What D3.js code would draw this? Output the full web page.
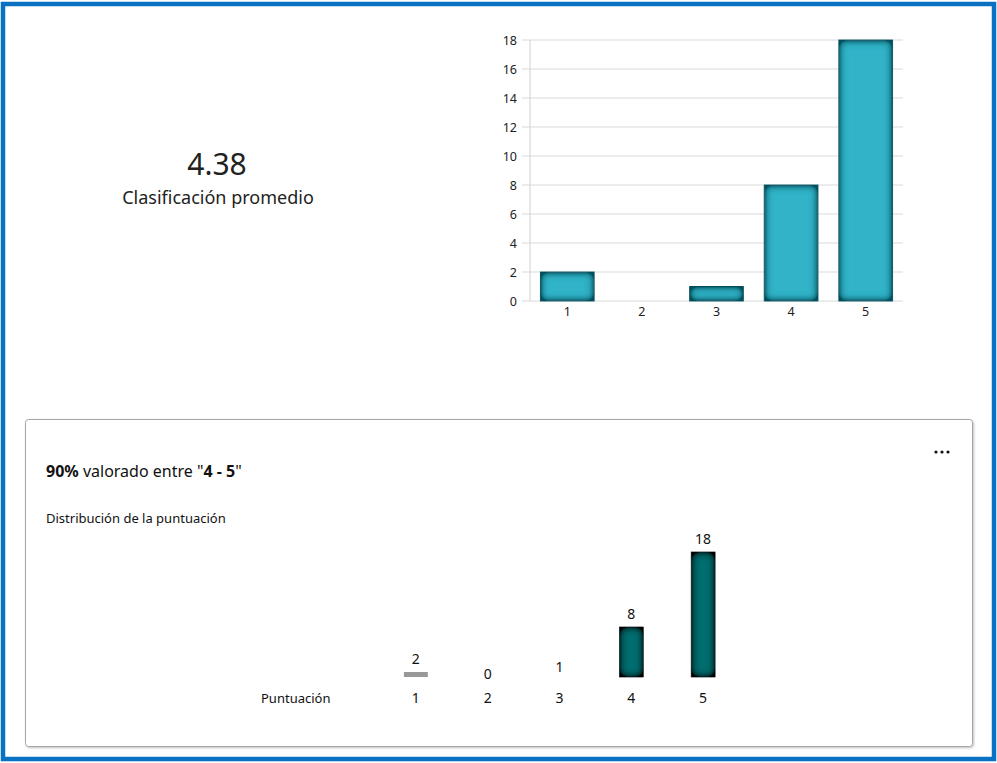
<!DOCTYPE html>
<html><head><meta charset="utf-8">
<script src="https://cdn.jsdelivr.net/npm/d3@7"></script>
<style>
html,body{margin:0;padding:0;background:#fff;}
svg{display:block;font-family:"Noto Sans","Open Sans",sans-serif;}
</style></head>
<body>
<svg id="c" width="997" height="763"></svg>
<script>
// ---- data ----
const categories = ["1","2","3","4","5"];
const counts = [2,0,1,8,18];
const yTicks = [0,2,4,6,8,10,12,14,16,18];
const averageValue = "4.38";
const averageLabel = "Clasificación promedio";
const summaryPct = "90%";
const summaryText = " valorado entre \"";
const summaryRange = "4 - 5";
const subTitle = "Distribución de la puntuación";
const axisTitle = "Puntuación";
const bottomBarKinds = ["gray","none","none","dark","dark"];

const svg = d3.select("#c");
const defs = svg.append("defs");

function innerShadow(id, color, sd, boost){
  const f = defs.append("filter").attr("id",id).attr("filterUnits","userSpaceOnUse")
    .attr("x",0).attr("y",0).attr("width",997).attr("height",763);
  f.append("feFlood").attr("flood-color",color).attr("result","fl");
  f.append("feComposite").attr("in","fl").attr("in2","SourceAlpha").attr("operator","out").attr("result","outside");
  f.append("feGaussianBlur").attr("in","outside").attr("stdDeviation",sd).attr("result","bl");
  const ct = f.append("feComponentTransfer").attr("in","bl").attr("result","bl2");
  ct.append("feFuncA").attr("type","linear").attr("slope",boost).attr("intercept",0);
  f.append("feComposite").attr("in","bl2").attr("in2","SourceAlpha").attr("operator","in").attr("result","sh");
  const m = f.append("feMerge");
  m.append("feMergeNode").attr("in","SourceGraphic");
  m.append("feMergeNode").attr("in","sh");
}
innerShadow("isTeal","#0a4f5c",4.5,2.2);
innerShadow("isDark","#000000",5,2);

const ds = defs.append("filter").attr("id","cardShadow").attr("x","-5%").attr("y","-5%").attr("width","110%").attr("height","110%");
ds.append("feDropShadow").attr("dx",1).attr("dy",1).attr("stdDeviation",1).attr("flood-color","#000").attr("flood-opacity",0.25);

// outer blue border
svg.append("rect").attr("x",3).attr("y",4).attr("width",991).attr("height",755)
  .attr("fill","none").attr("stroke","#0a70c2").attr("stroke-width",4.5);

// left KPI
svg.append("text").attr("x",217).attr("y",175).attr("text-anchor","middle")
  .attr("font-size",30).attr("fill","#222").text(averageValue);
svg.append("text").attr("x",218).attr("y",204).attr("text-anchor","middle")
  .attr("font-size",18).attr("fill","#222").text(averageLabel);

// ---- top bar chart ----
const x = d3.scaleBand().domain(categories).range([530,903]).paddingInner(0.28).paddingOuter(0.14);
const y = d3.scaleLinear().domain([0,18]).range([301,40]);

const gGrid = svg.append("g");
gGrid.selectAll("line").data(yTicks).join("line")
  .attr("x1",522).attr("x2",903)
  .attr("y1",d=>y(d)).attr("y2",d=>y(d))
  .attr("stroke","#d9d9d9").attr("stroke-width",1);
svg.append("line").attr("x1",530).attr("x2",530).attr("y1",y(18)).attr("y2",y(0))
  .attr("stroke","#d0d0d0");

const yAxis = d3.axisLeft(y).tickValues(yTicks).tickSize(0).tickPadding(13);
const gy = svg.append("g").attr("transform","translate(530,0)").call(yAxis);
gy.select(".domain").remove();
gy.selectAll("text").attr("font-size",12.5).attr("fill","#222").attr("font-family","'Noto Sans',sans-serif");

const xAxis = d3.axisBottom(x).tickSize(0).tickPadding(6);
const gx = svg.append("g").attr("transform","translate(0,301)").call(xAxis);
gx.select(".domain").remove();
gx.selectAll("text").attr("font-size",12.5).attr("fill","#222").attr("font-family","'Noto Sans',sans-serif");

svg.append("g").selectAll("rect").data(counts.map((v,i)=>({c:categories[i],v})).filter(d=>d.v>0)).join("rect")
  .attr("x",d=>x(d.c)).attr("width",x.bandwidth())
  .attr("y",d=>y(d.v)).attr("height",d=>y(0)-y(d.v))
  .attr("fill","#31b3c8").attr("stroke","#a8e3ec").attr("stroke-width",1)
  .attr("filter","url(#isTeal)");

// ---- bottom card ----
svg.append("rect").attr("x",25.5).attr("y",419.5).attr("width",947).attr("height",327).attr("rx",3)
  .attr("fill","#fff").attr("stroke","#a6a6a6").attr("stroke-width",1).attr("filter","url(#cardShadow)");

const t1 = svg.append("text").attr("x",46).attr("y",477).attr("font-size",16).attr("fill","#111");
t1.append("tspan").attr("font-weight","bold").text(summaryPct);
t1.append("tspan").text(summaryText);
t1.append("tspan").attr("font-weight","bold").text(summaryRange);
t1.append("tspan").text("\"");

svg.append("text").attr("x",46).attr("y",523).attr("font-size",13).attr("fill","#111").text(subTitle);

// ellipsis
svg.append("g").selectAll("circle").data([0,1,2]).join("circle")
  .attr("cx",d=>936+d*6).attr("cy",452).attr("r",1.6).attr("fill","#111");

const xb = d3.scaleBand().domain(categories).range([380,739]).paddingInner(0.667).paddingOuter(0.333);
const yb = d3.scaleLinear().domain([0,18]).range([687,552]);
const base = 677;

const bdata = counts.map((v,i)=>({c:categories[i],v,k:bottomBarKinds[i]}));
svg.append("g").selectAll("rect").data(bdata.filter(d=>d.k!=="none" && yb(d.v)<base)).join("rect")
  .attr("x",d=>xb(d.c)).attr("width",xb.bandwidth())
  .attr("y",d=>yb(d.v)).attr("height",d=>base-yb(d.v))
  .attr("fill",d=>d.k==="gray"?"#999999":"#006e70")
  .attr("stroke",d=>d.k==="gray"?"none":"#888").attr("stroke-width",0.6)
  .attr("filter",d=>d.k==="gray"?null:"url(#isDark)");

svg.append("g").selectAll("text").data(bdata).join("text")
  .attr("x",d=>xb(d.c)+xb.bandwidth()/2).attr("y",d=>yb(d.v)-8)
  .attr("text-anchor","middle").attr("font-size",14).attr("fill","#111").text(d=>d.v);

svg.append("g").selectAll("text").data(categories).join("text")
  .attr("x",d=>xb(d)+xb.bandwidth()/2).attr("y",703)
  .attr("text-anchor","middle").attr("font-size",14).attr("fill","#111").text(d=>d);

svg.append("text").attr("x",261).attr("y",703).attr("font-size",13).attr("fill","#111").text(axisTitle);
</script>
</body></html>
